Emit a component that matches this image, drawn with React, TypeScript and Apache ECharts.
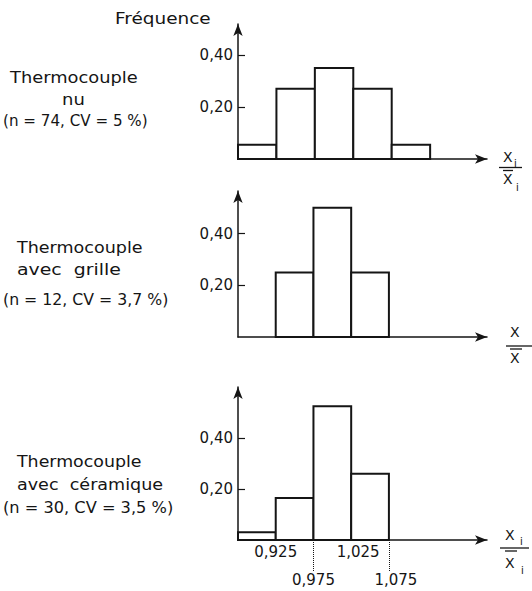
import React, { useEffect, useRef } from 'react';
import * as echarts from 'echarts';

// ---- data ----
const binWidth = 0.05;
const binStartsNu = [0.875, 0.925, 0.975, 1.025, 1.075];
const freqNu = [0.055, 0.27, 0.35, 0.27, 0.055];
const binStartsGrille = [0.925, 0.975, 1.025];
const freqGrille = [0.25, 0.5, 0.25];
const binStartsCeramique = [0.875, 0.925, 0.975, 1.025];
const freqCeramique = [0.03, 0.165, 0.525, 0.26];

const yTickValues = [0.2, 0.4];
const yTickLabels = ['0,20', '0,40'];
const xTickValues = [0.925, 0.975, 1.025, 1.075];
const xTickLabels = ['0,925', '0,975', '1,025', '1,075'];
const dottedValues = [0.975, 1.075];

const panelTitles = [
  ['Thermocouple', 'nu', '(n = 74, CV = 5 %)'],
  ['Thermocouple', 'avec  grille', '(n = 12, CV = 3,7 %)'],
  ['Thermocouple', 'avec  céramique', '(n = 30, CV = 3,5 %)'],
];

const INK = '#151515';
const FONT = '"DejaVu Sans", sans-serif';

function nearestIndex(arr: number[], v: number) {
  let best = 0;
  for (let i = 1; i < arr.length; i++) {
    if (Math.abs(arr[i] - v) < Math.abs(arr[best] - v)) best = i;
  }
  return best;
}

function histData(starts: number[], freqs: number[]) {
  return starts.map((s, i) => [s, s + binWidth, freqs[i]]);
}

const renderBar = (_params: any, api: any) => {
  const p0 = api.coord([api.value(0), api.value(2)]);
  const p1 = api.coord([api.value(1), 0]);
  return {
    type: 'rect',
    shape: { x: p0[0], y: p0[1], width: p1[0] - p0[0], height: p1[1] - p0[1] },
    style: { fill: '#fff', stroke: INK, lineWidth: 2 },
  };
};

const panels = [
  { left: 238, top: 24, width: 249, height: 135, xMax: 1.199, yMax: 0.519 },
  { left: 238, top: 191, width: 249, height: 146, xMax: 1.205, yMax: 0.565 },
  { left: 238, top: 387, width: 249, height: 153, xMax: 1.205, yMax: 0.6 },
];

function txt(text: string, x: number, y: number, sx: number, size = 15, align = 'left') {
  return {
    type: 'text',
    x,
    y,
    scaleX: sx,
    style: { text, font: `${size}px ${FONT}`, fill: INK, align, verticalAlign: 'middle' },
  };
}

function hline(x1: number, x2: number, y: number, w = 1.3) {
  return { type: 'line', shape: { x1, y1: y, x2, y2: y }, style: { stroke: INK, lineWidth: w } };
}

export default function App() {
  const ref = useRef<HTMLDivElement>(null);

  useEffect(() => {
    if (!ref.current) return;
    const chart = echarts.init(ref.current, undefined, { renderer: 'svg' });

    const richBase = { fontSize: 15, fontFamily: FONT, color: INK };

    const xAxes = panels.map((p, i) => {
      const isLast = i === 2;
      return {
        type: 'value',
        gridIndex: i,
        min: 0.875,
        max: p.xMax,
        splitLine: { show: false },
        axisLine: {
          show: true,
          onZero: false,
          symbol: ['none', 'arrow'],
          symbolSize: [7, 12],
          lineStyle: { color: INK, width: 1.5 },
        },
        axisTick: isLast
          ? {
              show: true,
              customValues: dottedValues,
              length: 32,
              inside: false,
              lineStyle: { color: INK, width: 1, type: 'dotted' },
            }
          : { show: false },
        axisLabel: isLast
          ? {
              show: true,
              customValues: xTickValues,
              margin: 4,
              formatter: (v: number) => {
                const k = nearestIndex(xTickValues, v);
                const key = ['a', 'b', 'c', 'd'][k];
                return `{${key}|${xTickLabels[k]}}`;
              },
              rich: {
                a: { ...richBase },
                b: { ...richBase, padding: [28, 0, 0, 0] },
                c: { ...richBase, padding: [0, 0, 0, 14] },
                d: { ...richBase, padding: [28, 0, 0, 14] },
              },
            }
          : { show: false },
      };
    });

    const yAxes = panels.map((p, i) => ({
      type: 'value',
      gridIndex: i,
      min: 0,
      max: p.yMax,
      interval: 0.2,
      splitLine: { show: false },
      axisLine: {
        show: true,
        onZero: false,
        symbol: ['none', 'arrow'],
        symbolSize: [7, 12],
        lineStyle: { color: INK, width: 1.5 },
      },
      axisTick: {
        show: true,
        inside: true,
        length: 7,
        customValues: yTickValues,
        lineStyle: { color: INK, width: 1.2 },
      },
      axisLabel: {
        show: true,
        customValues: yTickValues,
        margin: 5,
        fontSize: 15,
        fontFamily: FONT,
        color: INK,
        formatter: (v: number) => yTickLabels[nearestIndex(yTickValues, v)],
      },
    }));

    const series = [
      histData(binStartsNu, freqNu),
      histData(binStartsGrille, freqGrille),
      histData(binStartsCeramique, freqCeramique),
    ].map((data, i) => ({
      type: 'custom',
      xAxisIndex: i,
      yAxisIndex: i,
      renderItem: renderBar,
      encode: { x: [0, 1], y: 2 },
      data,
      z: 1,
    }));

    const graphic: any[] = [
      txt('Fréquence', 115, 19, 1.23),
      // panel 1 labels
      txt(panelTitles[0][0], 10, 78, 1.19),
      txt(panelTitles[0][1], 73.5, 100, 1.2, 15, 'center'),
      txt(panelTitles[0][2], 3, 121, 1.01),
      // panel 2 labels
      txt(panelTitles[1][0], 17, 248, 1.17),
      txt(panelTitles[1][1], 17, 270, 1.26),
      txt(panelTitles[1][2], 3, 300, 1.05),
      // panel 3 labels
      txt(panelTitles[2][0], 17, 462, 1.16),
      txt(panelTitles[2][1], 17, 485, 1.17),
      txt(panelTitles[2][2], 3, 508, 1.08),
      // fraction panel 1
      txt('X', 503, 157, 1, 14),
      txt('i', 514, 163, 1, 10),
      hline(499, 522, 167.5),
      hline(503, 513, 170.5),
      txt('X', 503, 179, 1, 14),
      txt('i', 516, 187, 1, 10),
      // fraction panel 2 (cut off at the right edge)
      txt('X', 510, 332, 1, 14),
      hline(506, 532, 346),
      hline(510, 522, 349),
      txt('X', 510, 358, 1, 14),
      // fraction panel 3
      txt('X', 505, 535, 1, 14),
      txt('i', 520, 541, 1, 10),
      hline(500, 529, 548),
      hline(505, 517, 551),
      txt('X', 505, 563, 1, 14),
      txt('i', 521, 570, 1, 10),
    ];

    chart.setOption({
      animation: false,
      backgroundColor: '#fff',
      grid: panels.map((p) => ({ left: p.left, top: p.top, width: p.width, height: p.height, containLabel: false })),
      xAxis: xAxes,
      yAxis: yAxes,
      series,
      graphic,
    } as any);

    return () => chart.dispose();
  }, []);

  return (
    <div
      ref={ref}
      style={{ position: 'absolute', left: 0, top: 0, width: 532, height: 591, background: '#fff' }}
    />
  );
}
